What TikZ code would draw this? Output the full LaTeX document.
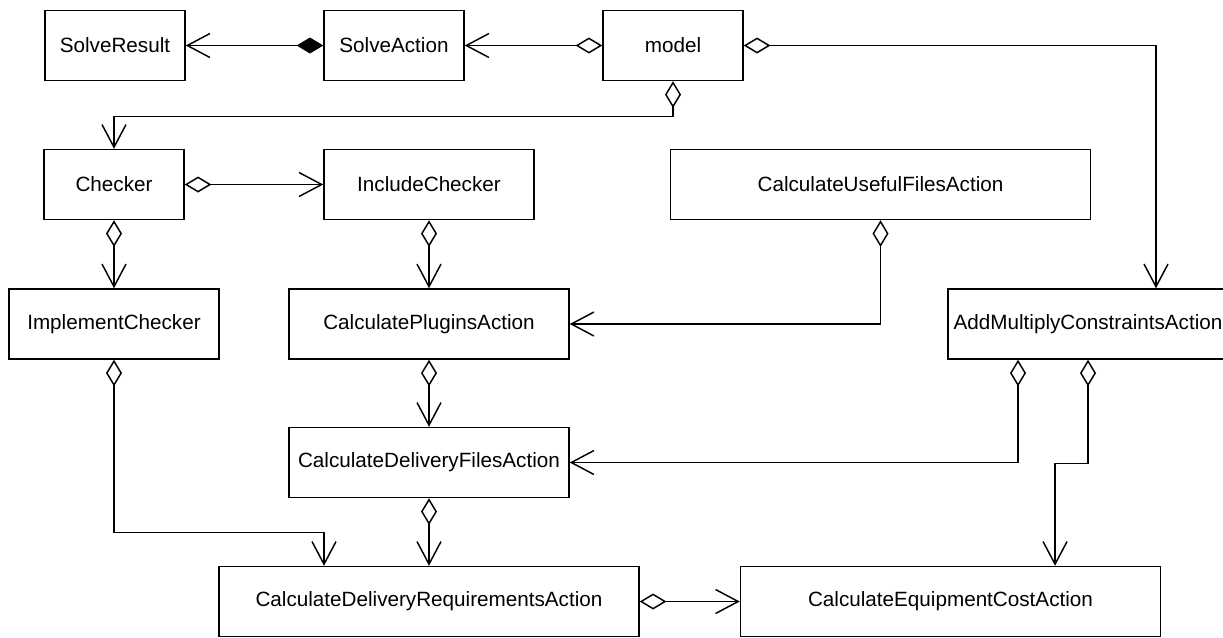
\documentclass[tikz,border=0pt]{standalone}
\usepackage{fontspec}
\setmainfont{Liberation Sans}
\usetikzlibrary{arrows.meta}
\begin{document}
\begin{tikzpicture}[x=0.75pt,y=-0.75pt,
  box/.style={draw,line width=1.1pt,minimum height=52.5pt,inner sep=0pt,
    font=\fontsize{15.5}{18}\selectfont},
  wA/.style={box,minimum width=105pt},
  wB/.style={box,minimum width=157.5pt},
  wC/.style={box,minimum width=210pt},
  wD/.style={box,minimum width=315pt},
  conn/.style={line width=1.1pt},
  agg/.style={conn,{Diamond[open,length=20pt,width=12pt]}-{Straight Barb[length=17pt,width=18pt]}},
  comp/.style={conn,{Diamond[length=20pt,width=12pt]}-{Straight Barb[length=17pt,width=18pt]}}]
\fill[white] (0,0) rectangle (1223,637);
\useasboundingbox (0,0) rectangle (1223,637);

\node[wA] (SR) at (115,45.5) {SolveResult};
\node[wA] (SA) at (394,45.5) {SolveAction};
\node[wA] (model) at (673,45.5) {model};
\node[wA] (CH) at (114,184.5) {Checker};
\node[wB] (IC) at (429,184.5) {IncludeChecker};
\node[wD] (CUF) at (880.5,184.5) {CalculateUsefulFilesAction};
\node[wB] (IMC) at (114,324) {ImplementChecker};
\node[wC] (CP) at (429,324) {CalculatePluginsAction};
\node[wC] (AMC) at (1088,324) {AddMultiplyConstraintsAction};
\node[wC] (CDF) at (429,462.5) {CalculateDeliveryFilesAction};
\node[wD] (CDR) at (429,601.5) {CalculateDeliveryRequirementsAction};
\node[wD] (CEC) at (950.5,601.5) {CalculateEquipmentCostAction};

\draw[comp] (SA.west) -- (SR.east);
\draw[agg] (model.west) -- (SA.east);
\draw[agg] (model.east) -| ([xshift=51pt]AMC.north);
\draw[agg] (model.south) -- ++(0,35) -| (CH.north);
\draw[agg] (CH.east) -- (IC.west);
\draw[agg] (CH.south) -- (IMC.north);
\draw[agg] (IC.south) -- (CP.north);
\draw[agg] (CUF.south) |- (CP.east);
\draw[agg] (IMC.south) -- ++(0,173) -| ([xshift=-78.75pt]CDR.north);
\draw[agg] (CP.south) -- (CDF.north);
\draw[agg] ([xshift=-52.5pt]AMC.south) |- (CDF.east);
\draw[agg] (AMC.south) -- ++(0,104) -| ([xshift=78.4pt]CEC.north);
\draw[agg] (CDF.south) -- (CDR.north);
\draw[agg] (CDR.east) -- (CEC.west);
\end{tikzpicture}
\end{document}
